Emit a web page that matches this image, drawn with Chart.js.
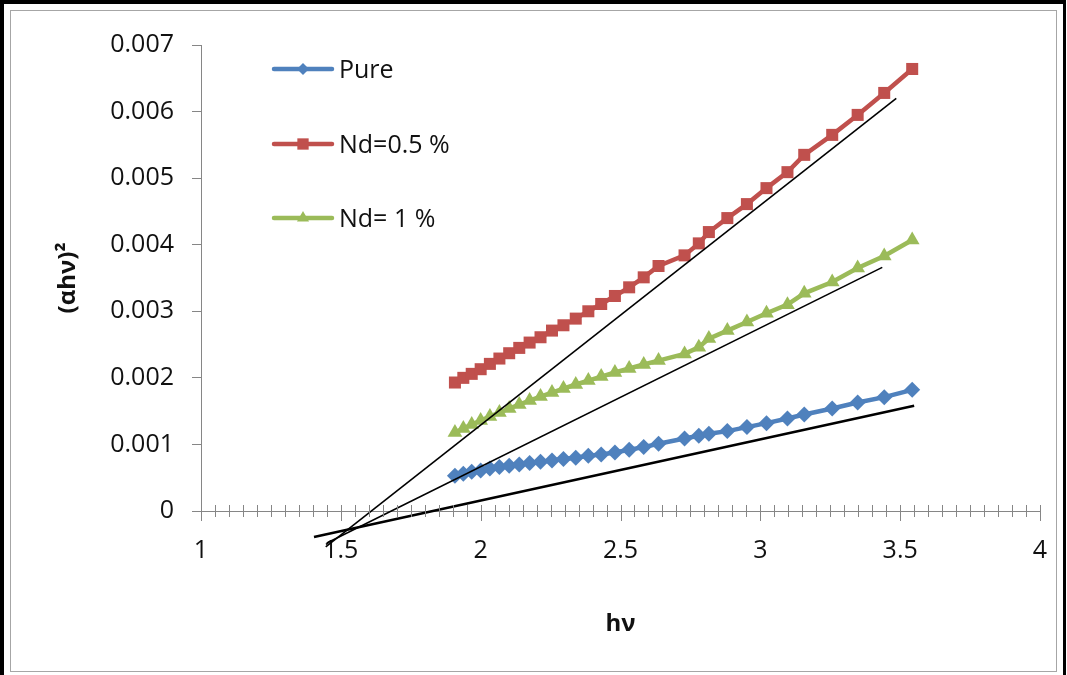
<!DOCTYPE html>
<html>
<head>
<meta charset="utf-8">
<script src="https://cdn.jsdelivr.net/npm/chart.js@4.4.0/dist/chart.umd.min.js"></script>
<style>
  html, body { margin: 0; padding: 0; background: #fff; overflow: hidden; }
  #wrap { position: relative; width: 1067px; height: 675px; }
  #chart { position: absolute; left: 0; top: 0; }
  #frame { position: absolute; left: 0; top: 0; width: 1066px; height: 675px; box-sizing: border-box;
           border-left: 4px solid #000; border-top: 4px solid #000; border-right: 3px solid #000; pointer-events: none; }
  #inner { position: absolute; left: 10px; top: 10px; width: 1047px; height: 662px; box-sizing: border-box;
           border: 1px solid #a6a6a6; pointer-events: none; }
</style>
</head>
<body>
<div id="wrap">
  <canvas id="chart" width="1067" height="675"></canvas>
  <div id="frame"></div>
  <div id="inner"></div>
</div>
<script>
// photon energy hv (eV)
const hv = [1.908, 1.938, 1.968, 2.000, 2.033, 2.067, 2.102, 2.138, 2.175, 2.214,
            2.255, 2.296, 2.340, 2.385, 2.431, 2.480, 2.531, 2.583, 2.636, 2.729,
            2.780, 2.816, 2.882, 2.952, 3.022, 3.097, 3.157, 3.257, 3.348, 3.443, 3.543];

const pure = [0.00053, 0.00056, 0.00059, 0.00061, 0.00064, 0.00066, 0.00068, 0.00070, 0.00072, 0.00074,
              0.00076, 0.00078, 0.00080, 0.00083, 0.00085, 0.00088, 0.00092, 0.00096, 0.00101, 0.00109,
              0.00113, 0.00116, 0.00120, 0.00126, 0.00132, 0.00139, 0.00145, 0.00154, 0.00163, 0.00171, 0.00182];

const nd05 = [0.00193, 0.00200, 0.00206, 0.00213, 0.00221, 0.00229, 0.00237, 0.00245, 0.00253, 0.00261,
              0.00271, 0.00279, 0.00289, 0.00300, 0.00311, 0.00323, 0.00336, 0.00351, 0.00368, 0.00384,
              0.00402, 0.00419, 0.00440, 0.00461, 0.00485, 0.00509, 0.00535, 0.00565, 0.00595, 0.00628, 0.00664];

const nd1 = [0.00118, 0.00124, 0.00130, 0.00136, 0.00142, 0.00148, 0.00154, 0.00160, 0.00166, 0.00172,
             0.00178, 0.00184, 0.00190, 0.00196, 0.00202, 0.00208, 0.00214, 0.00220, 0.00226, 0.00236,
             0.00246, 0.00259, 0.00271, 0.00284, 0.00297, 0.00310, 0.00327, 0.00344, 0.00365, 0.00383, 0.00407];

// hand drawn straight fit lines (end points)
const fitNd05X = [1.446, 3.486], fitNd05Y = [-0.00054, 0.00620];
const fitNd1X  = [1.450, 3.436], fitNd1Y  = [-0.00048, 0.00366];
const fitPureX = [1.404, 3.550], fitPureY = [-0.00039, 0.00158];

const seriesNames = ['Pure', 'Nd=0.5 %', 'Nd= 1 %'];
const xTickLabels = ['1', '1.5', '2', '2.5', '3', '3.5', '4'];
const yTickLabels = ['0', '0.001', '0.002', '0.003', '0.004', '0.005', '0.006', '0.007'];

function pts(xs, ys) { return xs.map((x, i) => ({ x: x, y: ys[i] })); }

const FONT = '"Open Sans", "Noto Sans", sans-serif';

function series(label, ys, color, style, r) {
  return { label: label, data: pts(hv, ys), showLine: true, borderColor: color, backgroundColor: color,
           borderWidth: 4.5, pointStyle: style, pointRadius: r, pointBorderWidth: 0, order: 1 };
}
function fit(xs, ys, w) {
  return { label: '', data: pts(xs, ys), showLine: true, borderColor: '#000', borderWidth: w,
           pointRadius: 0, clip: false, order: 0 };
}

const legendY = [69, 144, 218];
const legendR = [6, 8, 7];
const legendPlugin = {
  id: 'placedLegend',
  afterDraw(chart) {
    const ctx = chart.ctx;
    seriesNames.forEach((name, i) => {
      const ds = chart.data.datasets[i];
      const y = legendY[i];
      ctx.save();
      ctx.strokeStyle = ds.borderColor;
      ctx.lineWidth = 4.5;
      ctx.lineCap = 'round';
      ctx.beginPath(); ctx.moveTo(274, y); ctx.lineTo(332, y); ctx.stroke();
      ctx.fillStyle = ds.backgroundColor;
      Chart.helpers.drawPoint(ctx, { pointStyle: ds.pointStyle, radius: legendR[i], rotation: 0, borderWidth: 0 }, 303, y);
      ctx.fillStyle = '#111';
      ctx.font = '25px ' + FONT;
      ctx.textBaseline = 'middle';
      ctx.fillText(name, 339, y + 2);
      ctx.restore();
    });
  }
};

const crossTicks = {
  id: 'crossTicks',
  afterDraw(chart) {
    const sx = chart.scales.x, ctx = chart.ctx;
    const y0 = sx.top;
    ctx.save();
    ctx.strokeStyle = '#868686';
    ctx.lineWidth = 1;
    sx.ticks.forEach((t, i) => {
      const px = Math.round(sx.getPixelForValue(t.value)) + 0.5;
      ctx.beginPath();
      ctx.moveTo(px, y0 - 6);
      ctx.lineTo(px, y0 + (i % 10 === 0 ? 10 : 6));
      ctx.stroke();
    });
    ctx.restore();
  }
};

new Chart(document.getElementById('chart'), {
  type: 'scatter',
  data: {
    datasets: [
      series(seriesNames[0], pure, '#4F81BD', 'rectRot', 8),
      series(seriesNames[1], nd05, '#C0504D', 'rect', 8.5),
      series(seriesNames[2], nd1, '#9BBB59', 'triangle', 8.5),
      fit(fitNd05X, fitNd05Y, 1.6),
      fit(fitNd1X, fitNd1Y, 1.6),
      fit(fitPureX, fitPureY, 2.6)
    ]
  },
  options: {
    responsive: false,
    animation: false,
    layout: { padding: { top: 45, right: 27, left: 0, bottom: 0 } },
    plugins: { legend: { display: false }, tooltip: { enabled: false } },
    scales: {
      x: {
        type: 'linear', min: 1, max: 4,
        ticks: {
          stepSize: 0.05, maxTicksLimit: 100, autoSkip: false, maxRotation: 0, padding: 2,
          color: '#111', font: { family: FONT, size: 25 },
          callback: (v, i) => (i % 10 === 0 ? xTickLabels[i / 10] : '')
        },
        // transparent tick marks only push the labels down; visible ticks come from crossTicks
        grid: { drawOnChartArea: false, drawTicks: true, tickLength: 23, color: 'rgba(0,0,0,0)' },
        border: { color: '#868686', width: 1 },
        title: { display: true, text: 'hν', color: '#111', font: { family: FONT, size: 24, weight: 'bold' },
                 padding: { top: 0, bottom: 36 } },
        afterFit(s) { s.height = 164; }
      },
      y: {
        min: 0, max: 0.007,
        ticks: {
          stepSize: 0.001, padding: 18, color: '#111', font: { family: FONT, size: 25 },
          callback: (v, i) => yTickLabels[i]
        },
        grid: { drawOnChartArea: false, tickLength: 9, color: '#868686' },
        border: { color: '#868686', width: 1 },
        title: { display: true, text: '(αhν)²', color: '#111', font: { family: FONT, size: 24, weight: 'bold' },
                 padding: { top: 54, bottom: 0 } },
        afterFit(s) { s.width = 201; }
      }
    }
  },
  plugins: [legendPlugin, crossTicks]
});
</script>
</body>
</html>
